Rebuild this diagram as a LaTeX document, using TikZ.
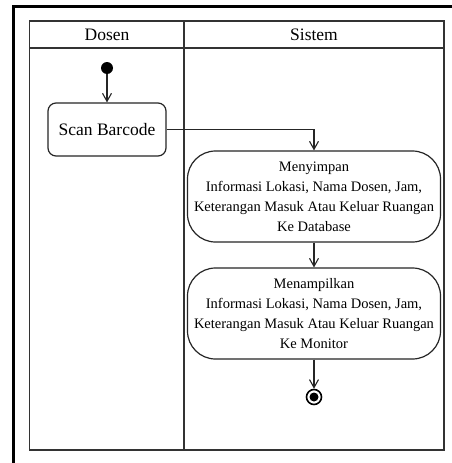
\documentclass[tikz,border=0pt]{standalone}
\usepackage{fontspec}
\setmainfont{Liberation Serif}
\usetikzlibrary{arrows.meta}
\begin{document}
\begin{tikzpicture}[x=1pt,y=-1pt,
  lane/.style={draw=black!80,line width=1.2pt},
  act/.style={draw=black!85,line width=1.2pt,align=center,font=\fontsize{14.5}{20}\selectfont,inner sep=0pt},
  flow/.style={draw=black!85,line width=1.1pt,-{Straight Barb[length=8pt,width=9pt]}},
  hdr/.style={font=\fontsize{17.5}{19}\selectfont}]
\useasboundingbox (0,0) rectangle (452,463);
\fill[white] (0,0) rectangle (452,463);
% outer frame (cropped)
\draw[line width=3pt,black] (13,463) -- (13,6) -- (452,6);
% swimlanes
\draw[lane] (29.5,21) rectangle (444,450);
\draw[lane] (29.5,48) -- (444,48);
\draw[lane] (184,21) -- (184,450);
\node[hdr] (h1) at (107,35) {Dosen};
\node[hdr] (h2) at (314,35) {Sistem};
% nodes
\node[circle,fill=black,minimum size=12pt,inner sep=0pt] (start) at (107,68) {};
\node[act,font=\fontsize{17.5}{20}\selectfont,rounded corners=8pt,minimum width=118pt,minimum height=53pt] (scan) at (107,129.5) {Scan Barcode};
\node[act,rounded corners=28pt,minimum width=253pt,minimum height=91pt] (simpan) at (314,196.5) {Menyimpan\\Informasi Lokasi, Nama Dosen, Jam,\\Keterangan Masuk Atau Keluar Ruangan\\Ke Database};
\node[act,rounded corners=28pt,minimum width=253pt,minimum height=91pt] (tampil) at (314,313.5) {Menampilkan\\Informasi Lokasi, Nama Dosen, Jam,\\Keterangan Masuk Atau Keluar Ruangan\\Ke Monitor};
\node[circle,draw=black,line width=1.6pt,minimum size=15pt,inner sep=0pt] (end) at (314,397) {};
\node[circle,fill=black,minimum size=9pt,inner sep=0pt] (endin) at (314,397) {};
% flows
\draw[flow] (start) -- (scan);
\draw[flow] (scan.east) -| (simpan.north);
\draw[flow] (simpan) -- (tampil);
\draw[flow] (tampil) -- (end);
\end{tikzpicture}
\end{document}
